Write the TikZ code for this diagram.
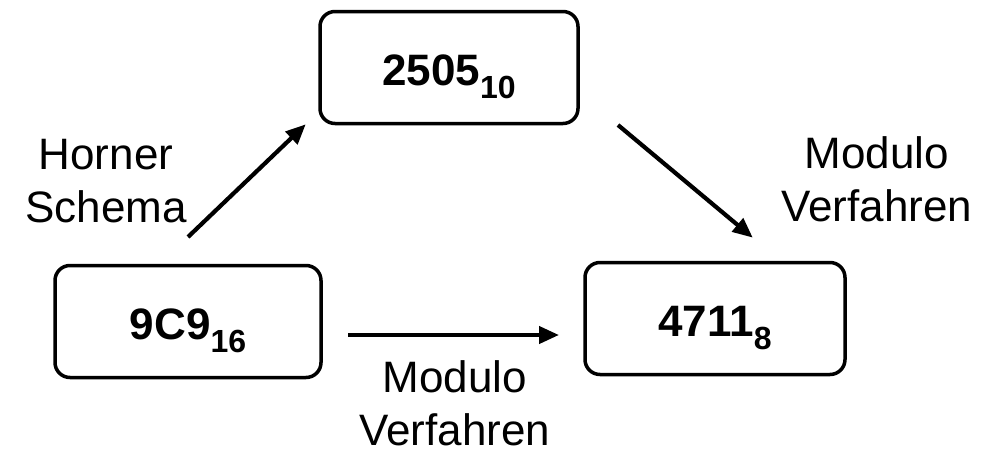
\documentclass[tikz,border=0pt]{standalone}
\usepackage{fontspec}
\setmainfont{Liberation Sans}
\usetikzlibrary{arrows.meta}

\newcommand{\numwithbase}[2]{{\fontsize{44}{50}\selectfont\bfseries #1\raisebox{-13pt}{\fontsize{32}{32}\selectfont\bfseries #2}}}

\tikzset{
  numbox/.style={draw, line width=3.5pt, rounded corners=15pt,
    minimum width=#1, minimum height=112pt, inner sep=0pt,
    text height=36pt, text depth=0pt},
  conv/.style={line width=4.2pt,
    -{Triangle[length=20pt,width=17pt]}, shorten >=-1pt},
  method/.style={align=center, inner sep=0pt,
    font=\fontsize{44}{53}\selectfont}
}

\begin{document}
\begin{tikzpicture}[x=1pt, y=-1pt]
  \useasboundingbox (0,0) rectangle (983,464);

  % number boxes
  \node[numbox=258pt] (dec) at (449,67.5)  {\numwithbase{2505}{10}};
  \node[numbox=266pt] (hex) at (188,321.5) {\numwithbase{9C9}{16}};
  \node[numbox=260pt] (oct) at (715,318.5) {\numwithbase{4711}{8}};

  % free ends of the conversion arrows
  \coordinate (hornerA) at (188,237);
  \coordinate (hornerB) at (305,125);
  \coordinate (modA)    at (618,125);
  \coordinate (modB)    at (752,237);
  \coordinate (directA) at (348,335);
  \coordinate (directB) at (558,335);

  \draw[conv] (hornerA) -- (hornerB);
  \draw[conv] (modA) -- (modB);
  \draw[conv] (directA) -- (directB);

  % method labels
  \node[method] (lhorner) at (106,181) {Horner\\Schema};
  \node[method] (lmodtop) at (877,179) {Modulo\\Verfahren};
  \node[method] (lmodbot) at (455,403) {Modulo\\Verfahren};
\end{tikzpicture}
\end{document}
